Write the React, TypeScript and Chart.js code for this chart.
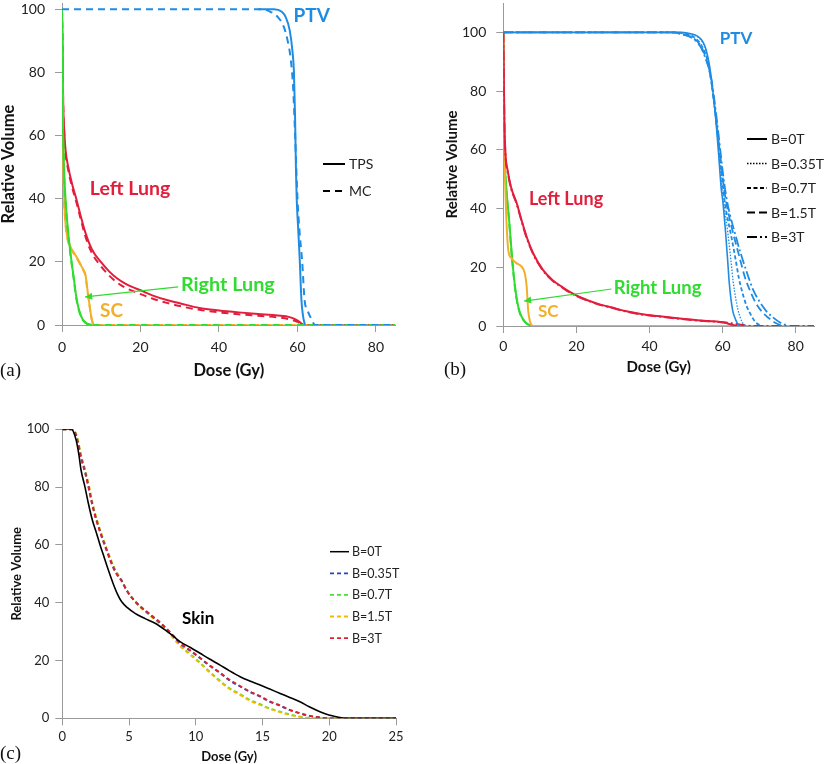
import React, { useEffect, useRef } from "react";
import { Chart, registerables } from "chart.js";
Chart.register(...registerables);

type Pt = [number, number];

// ---------- Panel (a): TPS vs MC ----------
const aPtvTps: Pt[] = [[50,100],[54,100],[56,99.2],[57,97.5],[58,93.5],[58.7,87],[59.1,80],[59.4,65],[59.6,50],[59.8,40],[60.2,30],[60.6,20],[61,8],[61.4,3],[61.9,0]];
const aPtvMc: Pt[] = [[0,100],[51,100],[53,99.3],[55,97.5],[56.5,94.5],[57.5,90],[58.3,84],[58.9,75],[59.4,60],[60,40],[60.5,30],[61.2,20],[61.8,8],[62.6,4.5],[63.5,2],[64.5,0],[85,0]];
const aLeftTps: Pt[] = [[0,100],[0.1,93],[0.3,71],[0.6,61],[0.9,55.5],[1.6,50],[2.5,45],[3.7,39.7],[4.8,34.4],[5.9,29.5],[7.6,24],[10,19.8],[12,17],[14,14.8],[16,13.2],[18,12],[20,11],[23,9.4],[26.7,7.9],[30,6.9],[35,5.4],[40,4.6],[45,4],[50,3.5],[55,3],[58,2.5],[59.5,1.8],[60.5,1],[61.3,0.2],[62,0]];
const aLeftMc: Pt[] = [[0,100],[0.1,92],[0.3,70],[0.6,60],[0.9,54.5],[1.6,49],[2.5,44],[3.7,38.7],[4.8,33.4],[5.9,28.3],[7.6,22.8],[10,18.5],[12,15.7],[14,13.5],[16,11.9],[18,10.8],[20,9.8],[23,8.4],[26.7,7],[30,6],[35,4.8],[40,4],[45,3.4],[50,2.9],[55,2.4],[58,1.8],[60,1],[61,0.3],[62,0],[85,0]];
const aRightTps: Pt[] = [[0,100],[0.05,85],[0.1,71],[0.3,60],[0.5,50],[0.9,40],[1.6,29],[2.6,18.5],[3.1,14],[3.5,10],[4,6.5],[4.6,3.7],[5.3,1.7],[6.3,0.5],[7.6,0]];
const aRightMc: Pt[] = [[0,100],[0.05,84],[0.1,70],[0.3,59],[0.5,49],[0.9,39],[1.6,28.3],[2.6,18],[3.1,13.5],[3.5,9.6],[4,6.2],[4.6,3.5],[5.3,1.6],[6.3,0.4],[7.6,0],[85,0]];
const aScTps: Pt[] = [[0,100],[0.1,80],[0.3,55],[0.5,42],[0.7,35.5],[1.2,29],[2,25.2],[3.2,22.6],[4.2,20.5],[5,18.5],[5.6,17.2],[6,15.8],[6.3,13],[6.6,10],[7,6.5],[7.4,3],[7.8,0.8],[8.1,0]];
const aScMc: Pt[] = [[0,100],[0.1,79],[0.3,54],[0.5,41],[0.7,35],[1.2,28.5],[2,24.8],[3.2,22.2],[4.2,20.2],[5,18.2],[5.6,16.9],[6,15.4],[6.3,12.6],[6.6,9.6],[7,6.2],[7.4,2.8],[7.8,0.7],[8.2,0],[85,0]];

// ---------- Panel (b): magnetic field strengths ----------
const bPtv0: Pt[] = [[0,100],[48,100],[51,99.6],[53,98.8],[54.5,97],[55.5,94],[56.5,88],[57.5,78],[58.3,68],[59,57],[59.6,47],[60.1,42],[60.8,32],[61.4,22],[61.8,15],[62.3,9],[62.8,5],[63.3,3],[64,1],[64.7,0]];
const bPtv035: Pt[] = [[0,100],[48,100],[51,99.5],[53,98.6],[54.5,96.6],[55.5,93.5],[56.5,87.5],[57.5,77.5],[58.4,67],[59.2,56],[59.9,46],[60.5,40],[61.4,32],[62.3,22],[62.9,15],[63.5,10],[64.2,5.5],[64.8,3],[65.5,1],[66.3,0]];
const bPtv07: Pt[] = [[0,100],[47,100],[50,99.4],[52,98.5],[54,96],[55.5,92],[56.5,86.5],[57.6,77],[58.6,66],[59.5,55],[60.3,45],[61,39],[62.3,31],[63.5,23],[64.5,16],[65.5,11],[66.5,7],[68,3.2],[69,1.3],[70.5,0]];
const bPtv15: Pt[] = [[0,100],[46,100],[49,99.4],[52,98],[54,95.5],[55.5,91],[56.6,85.5],[57.7,76],[58.7,65],[59.7,54],[60.6,45],[61.5,39],[63,31],[64.5,24],[66,17],[67.5,12],[69,8],[71,4.5],[72.5,2.8],[74.5,1],[76.5,0]];
const bPtv3: Pt[] = [[0,100],[46,100],[49,99.3],[52,97.8],[54,95],[55.5,90.5],[56.8,85],[57.9,75.5],[59,64],[60,53],[61,44],[62,38],[63.5,31],[65,24.5],[66.7,18],[68.3,12.5],[70,8.5],[72,5],[73.7,3],[75.7,1.2],[78,0]];
const bLeft0: Pt[] = [[0,100],[0.1,90],[0.3,70],[0.6,58.7],[1.2,53],[2.1,47.3],[3.7,41.7],[5,36],[6.4,30.3],[8.2,24.7],[10.9,19],[13.5,15.6],[16,13.4],[18.2,11.6],[21,9.8],[25.5,7.7],[30,6.2],[33.7,5],[38,4],[42.8,3.3],[47,2.7],[51.9,2.1],[56,1.7],[59.2,1.4],[61,1],[62,0.6],[63,0.3],[64,0]];
const bLeft3: Pt[] = [[0,100],[0.1,89],[0.3,69],[0.6,58],[1.2,52.5],[2.1,47],[3.7,41.4],[5,35.7],[6.4,30],[8.2,24.4],[10.9,18.8],[13.5,15.4],[16,13.2],[18.2,11.4],[21,9.7],[25.5,7.6],[30,6.1],[33.7,4.9],[38,3.9],[42.8,3.2],[47,2.6],[51.9,2],[56,1.6],[59.2,1.4],[61.5,1.1],[63,0.8],[65,0.4],[67,0.1],[68.5,0],[85,0]];
const bRight0: Pt[] = [[0,100],[0.05,75],[0.1,70],[0.3,58.7],[0.8,47.3],[1.6,36],[2.3,24.7],[3.2,13.4],[3.9,7.7],[4.6,4.3],[5.9,1.5],[7,0.4],[7.8,0]];
const bRight15: Pt[] = [[0,100],[0.05,74],[0.1,69],[0.3,58],[0.8,46.8],[1.6,35.5],[2.3,24.2],[3.2,13],[3.9,7.4],[4.6,4.1],[5.9,1.4],[7,0.3],[7.8,0],[85,0]];
const bSc0: Pt[] = [[0,100],[0.1,80],[0.3,60],[0.6,45],[1,32],[1.4,25.5],[2.3,23],[3.5,21.5],[5,20.2],[5.9,17.9],[6.4,13.4],[6.8,5.4],[7.3,1.5],[7.8,0.2],[8.1,0],[85,0]];

// ---------- Panel (c): Skin ----------
const cSkin0: Pt[] = [[0,100],[0.7,100],[0.85,99],[1.05,96],[1.25,91],[1.4,86],[1.7,80],[1.95,74.4],[2.25,68.6],[2.5,65],[2.83,60],[3.15,55.5],[3.45,51.3],[3.82,46.5],[4.15,42.8],[4.45,40.3],[4.9,38.2],[5.45,36.3],[6.2,34.5],[6.95,32.9],[7.7,30.6],[8.3,28.5],[8.82,26.5],[9.6,24.5],[10.32,22.5],[11,20.6],[11.82,18.4],[12.5,16.5],[13.32,14.4],[14,13],[14.82,11.5],[15.5,10.2],[16.32,8.6],[17,7.3],[17.8,5.7],[18.5,4],[19.3,2.3],[19.8,1.4],[20.3,0.8],[20.8,0.3],[21.4,0],[25,0]];
const cSkin035: Pt[] = [[0,100],[0.75,100],[0.95,99],[1.15,96],[1.4,90.5],[1.7,85.5],[2,79.5],[2.25,74],[2.58,68.3],[3.2,59.8],[3.95,51],[4.45,47.6],[4.83,44.2],[5.58,39.8],[6.45,36.3],[7.45,32.5],[8.2,29],[8.82,25.9],[9.6,23.3],[10.32,20.8],[11,18.3],[11.82,15.6],[12.5,13.2],[13.32,11],[14,9.2],[14.82,7.5],[15.5,5.8],[16.32,4.3],[17,2.9],[17.8,1.7],[18.5,0.8],[19.3,0.3],[20,0],[25,0]];
const cSkin07: Pt[] = [[0,100],[0.75,100],[0.95,99.2],[1.15,96.5],[1.4,91],[1.7,86],[2,80.2],[2.25,74.6],[2.58,68.8],[3.2,60.2],[3.95,51.5],[4.45,47.8],[4.83,44.4],[5.58,39.8],[6.45,36.2],[7.45,32.2],[8.2,28.6],[8.82,25.3],[9.6,22.2],[10.32,19.3],[11,16.3],[11.82,13],[12.5,10.5],[13.32,8.4],[14,6.5],[14.82,4.9],[15.5,3.5],[16.32,2.3],[17,1.4],[17.8,0.6],[18.3,0.2],[18.8,0],[25,0]];
const cSkin15: Pt[] = [[0,100],[0.75,100],[0.95,99.3],[1.15,96.8],[1.4,91.3],[1.7,86.3],[2,80.5],[2.25,74.9],[2.58,69],[3.2,60.4],[3.95,51.6],[4.45,47.8],[4.83,44.3],[5.58,39.6],[6.45,36],[7.45,32],[8.2,28.3],[8.82,25],[9.6,21.9],[10.32,19],[11,16],[11.82,12.7],[12.5,10.2],[13.32,8.1],[14,6.2],[14.82,4.6],[15.5,3.3],[16.32,2.1],[17,1.2],[17.8,0.5],[18.3,0.1],[18.7,0],[25,0]];
const cSkin3: Pt[] = [[0,100],[0.75,100],[0.95,98.8],[1.15,95.6],[1.4,90],[1.7,85],[2,79],[2.25,73.6],[2.58,68],[3.2,59.5],[3.95,50.8],[4.45,47.4],[4.83,44.1],[5.58,39.9],[6.45,36.5],[7.45,32.7],[8.2,29.2],[8.82,26.1],[9.6,23.5],[10.32,21],[11,18.5],[11.82,15.8],[12.5,13.4],[13.32,11.2],[14,9.4],[14.82,7.7],[15.5,6],[16.32,4.5],[17,3],[17.8,1.8],[18.5,0.9],[19.3,0.3],[20,0],[25,0]];

// ---------- labels ----------
const fieldLabels = ["B=0T", "B=0.35T", "B=0.7T", "B=1.5T", "B=3T"];
const methodLabels = ["TPS", "MC"];
const doseTitle = "Dose (Gy)";
const volumeTitle = "Relative Volume";

const FONT = "Lato, 'Open Sans', sans-serif";
const AXIS = "#9a9a9a";
const BLUE = "#1f8ce4";
const RED = "#e31e3c";
const GREEN = "#2fdc2f";
const ORANGE = "#f2b02a";

const D_MC = [7, 5];
const D_DOT = [1.5, 1.5];
const D_SHORT = [4, 2.5];
const D_LONG = [8, 4];
const D_DASHDOT = [10, 3, 2, 3];
const D_C = [4, 3];

function ds(label: string, pts: Pt[], color: string, width: number, dash: number[] = []) {
  return {
    label,
    data: pts.map(([x, y]) => ({ x, y })),
    borderColor: color,
    backgroundColor: color,
    borderWidth: width,
    borderDash: dash,
    pointRadius: 0,
    fill: false,
    cubicInterpolationMode: "monotone" as const,
  };
}

interface Note { text: string; x: number; y: number; color: string; size: number; }
interface Arrow { x1: number; y1: number; x2: number; y2: number; color: string; }
interface LegItem { label: string; color: string; dash: number[]; width: number; }
interface Leg { x: number; y0: number; dy: number; len: number; gap: number; size: number; items: LegItem[]; }

interface PanelSpec {
  w: number; h: number;
  datasets: any[];
  xMax: number; xStep: number;
  yMax: number;
  padding: { left: number; right: number; top: number; bottom: number };
  yWidth: number; xHeight: number;
  tickSize: number; titleSize: number;
  xTickPad: number; yTickPad: number; xTitlePad: number;
  notes: Note[]; arrows: Arrow[]; legend: Leg;
}

function Panel({ spec, left, top }: { spec: PanelSpec; left: number; top: number }) {
  const ref = useRef<HTMLCanvasElement | null>(null);
  useEffect(() => {
    if (!ref.current) return;
    const overlay = {
      id: "overlay",
      afterDatasetsDraw(chart: any) {
        const { ctx } = chart;
        const xs = chart.scales.x, ys = chart.scales.y;
        ctx.save();
        spec.arrows.forEach((a) => {
          const x1 = xs.getPixelForValue(a.x1), y1 = ys.getPixelForValue(a.y1);
          const x2 = xs.getPixelForValue(a.x2), y2 = ys.getPixelForValue(a.y2);
          ctx.strokeStyle = a.color; ctx.fillStyle = a.color; ctx.lineWidth = 1.2; ctx.setLineDash([]);
          ctx.beginPath(); ctx.moveTo(x1, y1); ctx.lineTo(x2, y2); ctx.stroke();
          const ang = Math.atan2(y2 - y1, x2 - x1);
          const L = 7, W = 3.5;
          ctx.beginPath();
          ctx.moveTo(x2, y2);
          ctx.lineTo(x2 - L * Math.cos(ang) + W * Math.sin(ang), y2 - L * Math.sin(ang) - W * Math.cos(ang));
          ctx.lineTo(x2 - L * Math.cos(ang) - W * Math.sin(ang), y2 - L * Math.sin(ang) + W * Math.cos(ang));
          ctx.closePath(); ctx.fill();
        });
        spec.notes.forEach((n) => {
          ctx.font = `bold ${n.size}px ${FONT}`;
          ctx.fillStyle = n.color; ctx.textAlign = "left"; ctx.textBaseline = "middle";
          ctx.fillText(n.text, xs.getPixelForValue(n.x), ys.getPixelForValue(n.y));
        });
        const lg = spec.legend;
        lg.items.forEach((it, i) => {
          const y = lg.y0 + i * lg.dy;
          ctx.strokeStyle = it.color; ctx.lineWidth = it.width; ctx.setLineDash(it.dash);
          ctx.beginPath(); ctx.moveTo(lg.x, y); ctx.lineTo(lg.x + lg.len, y); ctx.stroke();
          ctx.setLineDash([]);
          ctx.font = `${lg.size}px ${FONT}`; ctx.fillStyle = "#222";
          ctx.textAlign = "left"; ctx.textBaseline = "middle";
          ctx.fillText(it.label, lg.x + lg.len + lg.gap, y + 0.5);
        });
        ctx.restore();
      },
    };
    const chart = new Chart(ref.current, {
      type: "line",
      data: { datasets: spec.datasets },
      plugins: [overlay],
      options: {
        responsive: false,
        animation: false,
        events: [],
        layout: { padding: spec.padding },
        plugins: { legend: { display: false }, tooltip: { enabled: false }, title: { display: false } },
        scales: {
          x: {
            type: "linear", min: 0, max: spec.xMax,
            afterFit: (s: any) => { s.height = spec.xHeight; s.paddingLeft = 0; s.paddingRight = 0; },
            ticks: { stepSize: spec.xStep, includeBounds: false, padding: spec.xTickPad, color: "#222", maxRotation: 0, autoSkip: false, font: { family: FONT, size: spec.tickSize } },
            grid: { drawOnChartArea: false, drawTicks: true, tickLength: 7, color: AXIS },
            border: { display: true, color: AXIS, width: 1 },
            title: { display: true, text: doseTitle, color: "#111", font: { family: FONT, size: spec.titleSize, weight: "bold", lineHeight: 1 }, padding: { top: 0, bottom: spec.xTitlePad } },
          },
          y: {
            type: "linear", min: 0, max: spec.yMax,
            afterFit: (s: any) => { s.width = spec.yWidth; s.paddingTop = 0; s.paddingBottom = 0; },
            ticks: { stepSize: 20, includeBounds: false, padding: spec.yTickPad, color: "#222", font: { family: FONT, size: spec.tickSize } },
            grid: { drawOnChartArea: false, drawTicks: true, tickLength: 7, color: AXIS },
            border: { display: true, color: AXIS, width: 1 },
            title: { display: true, text: volumeTitle, color: "#111", font: { family: FONT, size: spec.titleSize, weight: "bold", lineHeight: 1 }, padding: { top: 0, bottom: 0 } },
          },
        },
      } as any,
    });
    return () => chart.destroy();
  }, [spec]);
  return (
    <canvas ref={ref} width={spec.w} height={spec.h}
      style={{ position: "absolute", left, top, width: spec.w, height: spec.h }} />
  );
}

const specA: PanelSpec = {
  w: 410, h: 385,
  datasets: [
    ds("PTV TPS", aPtvTps, BLUE, 2),
    ds("PTV MC", aPtvMc, BLUE, 2, D_MC),
    ds("Right Lung TPS", aRightTps, GREEN, 2),
    ds("Right Lung MC", aRightMc, GREEN, 2, D_MC),
    ds("SC TPS", aScTps, ORANGE, 2),
    ds("SC MC", aScMc, ORANGE, 2, D_MC),
    ds("Left Lung TPS", aLeftTps, RED, 2),
    ds("Left Lung MC", aLeftMc, RED, 2, D_MC),
  ],
  xMax: 85, xStep: 20, yMax: 102,
  padding: { left: 0, right: 14.4, top: 3, bottom: 0 },
  yWidth: 62, xHeight: 60,
  tickSize: 14, titleSize: 16.5, xTickPad: 7, yTickPad: 10, xTitlePad: 6,
  notes: [
    { text: "PTV", x: 59, y: 97.8, color: BLUE, size: 19 },
    { text: "Left Lung", x: 7.1, y: 43.2, color: RED, size: 19.5 },
    { text: "Right Lung", x: 30.3, y: 12.7, color: GREEN, size: 19.8 },
    { text: "SC", x: 9.7, y: 4.4, color: ORANGE, size: 19 },
  ],
  arrows: [{ x1: 29.6, y1: 12.1, x2: 5.9, y2: 8.9, color: GREEN }],
  legend: {
    x: 323, y0: 164, dy: 27, len: 22, gap: 4, size: 14,
    items: [
      { label: methodLabels[0], color: "#000", dash: [], width: 2 },
      { label: methodLabels[1], color: "#000", dash: D_MC, width: 2 },
    ],
  },
};

const specB: PanelSpec = {
  w: 417, h: 385,
  datasets: [
    ds("PTV B=0T", bPtv0, BLUE, 1.6),
    ds("PTV B=0.35T", bPtv035, BLUE, 1.3, D_DOT),
    ds("PTV B=0.7T", bPtv07, BLUE, 1.8, D_SHORT),
    ds("PTV B=1.5T", bPtv15, BLUE, 1.8, D_LONG),
    ds("PTV B=3T", bPtv3, BLUE, 1.8, D_DASHDOT),
    ds("Left Lung B=3T", bLeft3, RED, 2, D_DASHDOT),
    ds("Left Lung B=0T", bLeft0, RED, 2),
    ds("SC B=0T", bSc0, ORANGE, 2),
    ds("Right Lung B=0T", bRight0, GREEN, 2),
    ds("Right Lung B=1.5T", bRight15, GREEN, 2, D_LONG),
  ],
  xMax: 85, xStep: 20, yMax: 110,
  padding: { left: 35, right: 13, top: 3, bottom: 0 },
  yWidth: 58.3, xHeight: 59,
  tickSize: 14, titleSize: 15, xTickPad: 5.5, yTickPad: 10, xTitlePad: 10,
  notes: [
    { text: "PTV", x: 59.2, y: 97.9, color: BLUE, size: 17 },
    { text: "Left Lung", x: 7.0, y: 43.2, color: RED, size: 18 },
    { text: "Right Lung", x: 30.2, y: 12.9, color: GREEN, size: 18.5 },
    { text: "SC", x: 9.5, y: 4.8, color: ORANGE, size: 17 },
  ],
  arrows: [{ x1: 29.6, y1: 12.6, x2: 5.7, y2: 8.5, color: GREEN }],
  legend: {
    x: 337, y0: 139, dy: 24.5, len: 20, gap: 4, size: 14,
    items: [
      { label: fieldLabels[0], color: "#000", dash: [], width: 2 },
      { label: fieldLabels[1], color: "#000", dash: D_DOT, width: 1.3 },
      { label: fieldLabels[2], color: "#000", dash: D_SHORT, width: 2 },
      { label: fieldLabels[3], color: "#000", dash: D_LONG, width: 2 },
      { label: fieldLabels[4], color: "#000", dash: D_DASHDOT, width: 2 },
    ],
  },
};

const specC: PanelSpec = {
  w: 410, h: 344,
  datasets: [
    ds("B=0T", cSkin0, "#000000", 1.6),
    ds("B=3T", cSkin3, "#e0222e", 1.8, D_C),
    ds("B=0.35T", cSkin035, "#2a45c0", 1.8, D_C),
    ds("B=1.5T", cSkin15, "#f5b800", 1.8, D_C),
    ds("B=0.7T", cSkin07, "#4fdc3c", 1.8, D_C),
  ],
  xMax: 25, xStep: 5, yMax: 100,
  padding: { left: 10.2, right: 14, top: 9.3, bottom: 0 },
  yWidth: 52.1, xHeight: 45.7,
  tickSize: 13, titleSize: 13, xTickPad: 3.6, yTickPad: 6, xTitlePad: 0.5,
  notes: [{ text: "Skin", x: 8.97, y: 34.4, color: "#000", size: 17 }],
  arrows: [],
  legend: {
    x: 330, y0: 131.7, dy: 21.6, len: 19, gap: 3, size: 12.5,
    items: [
      { label: fieldLabels[0], color: "#000", dash: [], width: 1.5 },
      { label: fieldLabels[1], color: "#2a45c0", dash: D_C, width: 1.8 },
      { label: fieldLabels[2], color: "#4fdc3c", dash: D_C, width: 1.8 },
      { label: fieldLabels[3], color: "#f5b800", dash: D_C, width: 1.8 },
      { label: fieldLabels[4], color: "#e0222e", dash: D_C, width: 1.8 },
    ],
  },
};

const tagStyle: React.CSSProperties = {
  position: "absolute", fontFamily: "'Liberation Serif', 'DejaVu Serif', serif", fontSize: 19, lineHeight: "19px", color: "#111",
};

export default function App() {
  return (
    <div style={{ position: "absolute", left: 0, top: 0, width: 827, height: 764, background: "#fff", overflow: "hidden" }}>
      <Panel spec={specA} left={0} top={0} />
      <Panel spec={specB} left={410} top={0} />
      <Panel spec={specC} left={0} top={420} />
      <div style={{ ...tagStyle, left: 0, top: 360 }}>(a)</div>
      <div style={{ ...tagStyle, left: 444, top: 359 }}>(b)</div>
      <div style={{ ...tagStyle, left: 0, top: 743 }}>(c)</div>
    </div>
  );
}
